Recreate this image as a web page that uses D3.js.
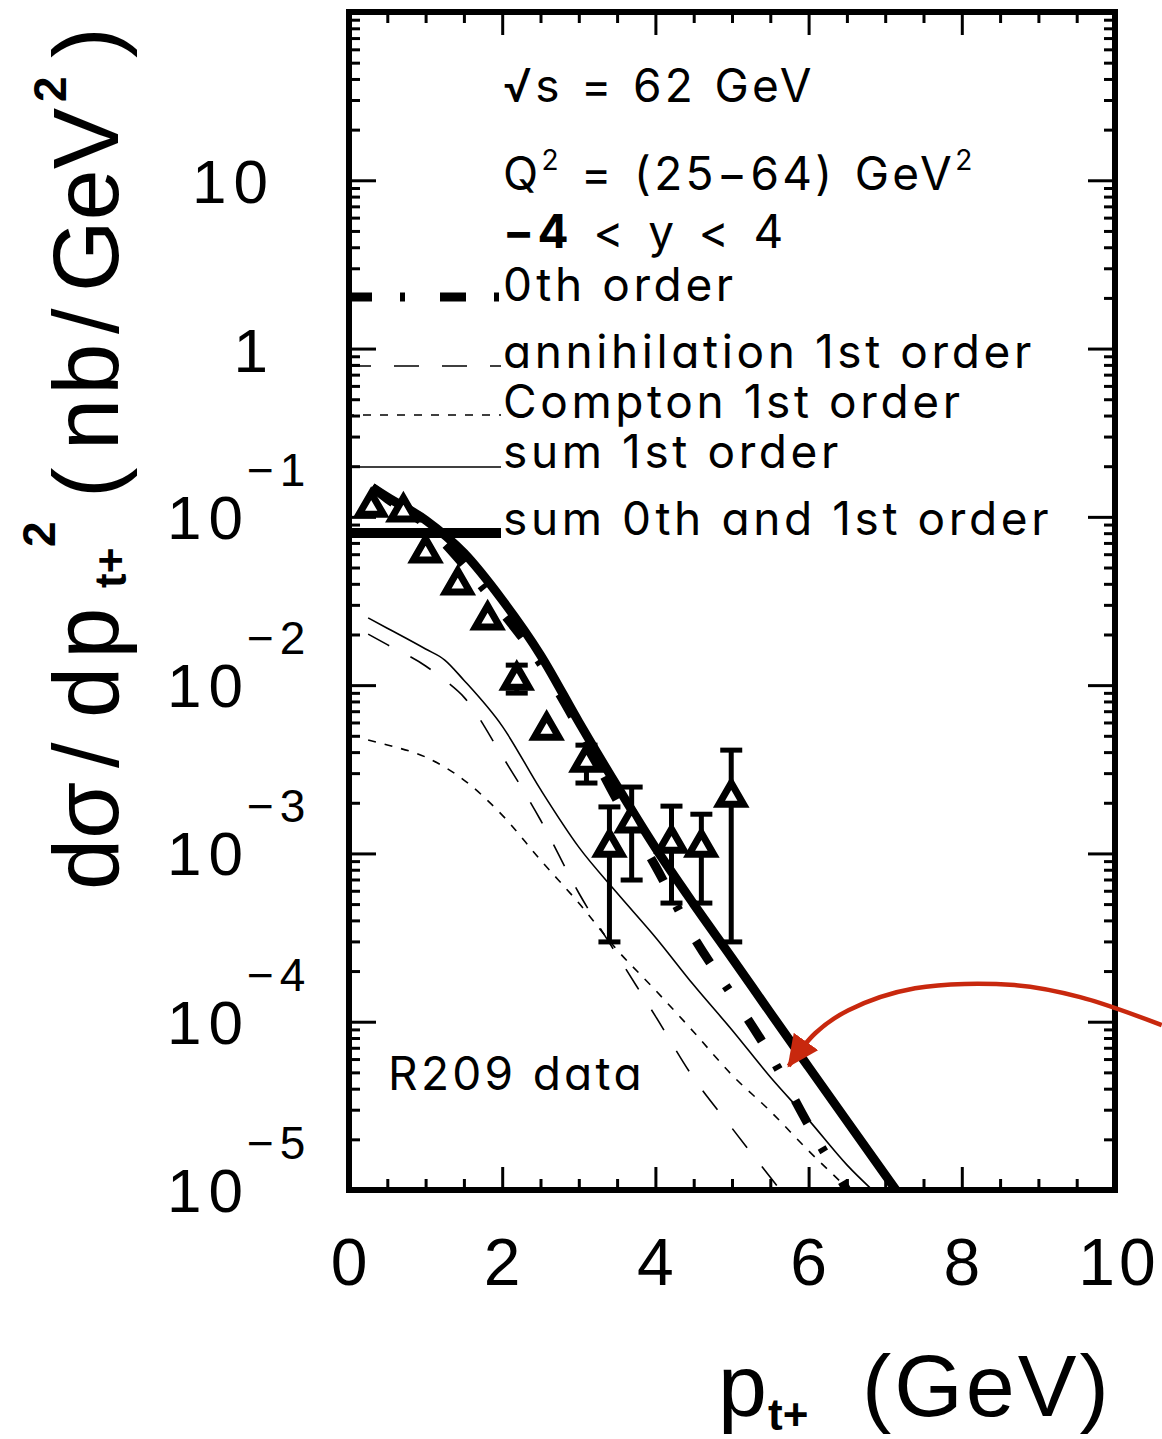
<!DOCTYPE html>
<html>
<head>
<meta charset="utf-8">
<script src="https://cdn.jsdelivr.net/npm/d3@7"></script>
<style>
  html, body { margin: 0; padding: 0; background: #fff; }
  svg { display: block; }
  .plot-text { font-family: Inter, "DejaVu Sans", sans-serif; font-feature-settings: "cv11" 1; }
  .axis-text { font-family: "Liberation Sans", Arial, sans-serif; }
</style>
</head>
<body>
<svg id="chart" width="1162" height="1439"></svg>
<script>
// ---- data ----
// zeroth order + sum curve grid (p_t+ in GeV)
const ptSum = [0.3, 0.5, 1, 1.5, 2, 2.5, 3, 3.5, 4, 4.5, 5, 5.5, 6, 6.5, 7, 7.5];
const sumAll = [0.150, 0.131, 0.0957, 0.0610, 0.0321, 0.0151, 0.00604, 0.00251, 0.00108, 0.000500,
                0.000239, 0.000113, 5.38e-5, 2.57e-5, 1.23e-5, 5.9e-6];
const zerothOrder = [0.150, 0.128, 0.090, 0.0518, 0.0272, 0.0135, 0.00556, 0.00207, 0.000841, 0.000318,
                     0.000144, 6.34e-5, 2.43e-5, 1.0e-5, 4.1e-6, 1.7e-6];

// first order curves
const ptFirst = [0.25, 0.5, 1, 1.25, 1.5, 2, 2.5, 3, 3.5, 4, 4.5, 5, 5.5, 6, 6.5, 7];
const sumFirst = [0.0251, 0.0218, 0.0164, 0.0141, 0.0107, 0.00571, 0.0024, 0.00109, 0.000582, 0.000318,
                  0.000165, 8.93e-5, 4.69e-5, 2.61e-5, 1.41e-5, 8.5e-6];
const annihilation = [0.0201, 0.0174, 0.0130, 0.0107, 0.00849, 0.00379, 0.00158, 0.000582, 0.000249, 0.000108,
                      4.62e-5, 2.33e-5, 1.19e-5, 6.2e-6, 3.3e-6, 1.8e-6];
const compton = [0.00472, 0.00441, 0.00374, 0.00326, 0.00273, 0.00169, 0.000914, 0.000507, 0.000267, 0.000154,
                 8.69e-5, 4.82e-5, 2.94e-5, 1.71e-5, 1.03e-5, 6.2e-6];

// R209 data points
const dataPt = [0.29, 0.71, 1.0, 1.42, 1.81, 2.19, 2.58, 3.10, 3.40, 3.69, 4.21, 4.60, 4.99];
const dataVal = [0.114, 0.107, 0.061, 0.0394, 0.0244, 0.0107, 0.0054, 0.00349, 0.00109, 0.00152, 0.00115, 0.00109, 0.00216];
const dataLo = [null, null, null, null, null, 0.00897, null, 0.00262, 0.000298, 0.000695, 0.000507, 0.000507, 0.000298];
const dataHi = [null, null, null, null, null, 0.01315, null, 0.0044, 0.00189, 0.00248, 0.00191, 0.00171, 0.00411];

// axis ticks
const xTickLabels = [0, 2, 4, 6, 8, 10];
const yTickExps = [1, 0, -1, -2, -3, -4, -5];

// red annotation arrow (in data coords)
const arrowPt = [10.61, 9.545, 8.688, 7.39, 6.52, 6.09, 5.74];
const arrowVal = [9.55e-5, 1.40e-4, 1.65e-4, 1.58e-4, 1.17e-4, 8.57e-5, 5.46e-5];

// ---- layout ----
const frame = { left: 349, right: 1115, top: 12, bottom: 1190 };
const ARROW_RED = "#c8280e";
const DASH_DOT = "26,28,5,35";

const svg = d3.select("#chart");

const x = d3.scaleLinear().domain([0, 10]).range([frame.left, frame.right]);
const y = d3.scaleLog().domain([1e-5, 1e2]).range([frame.bottom, frame.top]);

svg.append("rect").attr("width", 1162).attr("height", 1439).attr("fill", "#fff");

const defs = svg.append("defs");
defs.append("clipPath").attr("id", "plot-clip")
  .append("rect")
  .attr("x", frame.left).attr("y", frame.top)
  .attr("width", frame.right - frame.left).attr("height", frame.bottom - frame.top);

defs.append("marker")
  .attr("id", "arrow-head")
  .attr("markerUnits", "userSpaceOnUse")
  .attr("viewBox", "0 0 32 30")
  .attr("markerWidth", 32).attr("markerHeight", 30)
  .attr("refX", 30).attr("refY", 15)
  .attr("orient", "auto")
  .append("path")
  .attr("d", "M0,0 L32,15 L0,30 Z")
  .attr("fill", ARROW_RED);

// ---- ticks (inside the frame, on all four sides) ----
const xMinor = d3.range(0, 10.01, 0.5).filter(v => v % 2 !== 0);
const yMinor = [];
for (let e = -5; e < 2; e++) for (let k = 2; k <= 9; k++) yMinor.push(k * Math.pow(10, e));
const yMajor = yTickExps.map(e => Math.pow(10, e)).concat([100]);

function styleAxis(g) {
  g.select(".domain").remove();
  g.selectAll("line").attr("stroke", "#000").attr("stroke-width", 3);
  g.selectAll("text").remove();
}

svg.append("g").attr("transform", `translate(0,${frame.bottom})`)
  .call(d3.axisBottom(x).tickValues(xTickLabels).tickSize(-23)).call(styleAxis);
svg.append("g").attr("transform", `translate(0,${frame.bottom})`)
  .call(d3.axisBottom(x).tickValues(xMinor).tickSize(-11)).call(styleAxis);
svg.append("g").attr("transform", `translate(0,${frame.top})`)
  .call(d3.axisTop(x).tickValues(xTickLabels).tickSize(-23)).call(styleAxis);
svg.append("g").attr("transform", `translate(0,${frame.top})`)
  .call(d3.axisTop(x).tickValues(xMinor).tickSize(-11)).call(styleAxis);

svg.append("g").attr("transform", `translate(${frame.left},0)`)
  .call(d3.axisLeft(y).tickValues(yMajor).tickSize(-27)).call(styleAxis);
svg.append("g").attr("transform", `translate(${frame.left},0)`)
  .call(d3.axisLeft(y).tickValues(yMinor).tickSize(-11)).call(styleAxis);
svg.append("g").attr("transform", `translate(${frame.right},0)`)
  .call(d3.axisRight(y).tickValues(yMajor).tickSize(-27)).call(styleAxis);
svg.append("g").attr("transform", `translate(${frame.right},0)`)
  .call(d3.axisRight(y).tickValues(yMinor).tickSize(-11)).call(styleAxis);

// ---- curves ----
const line = d3.line()
  .x(d => x(d[0]))
  .y(d => y(d[1]))
  .curve(d3.curveMonotoneX);

const curves = [
  { pts: ptFirst, vals: compton, width: 1.6, dash: "8,9" },
  { pts: ptFirst, vals: annihilation, width: 1.6, dash: "24,24" },
  { pts: ptFirst, vals: sumFirst, width: 1.6, dash: null },
  { pts: ptSum, vals: zerothOrder, width: 9, dash: DASH_DOT },
  { pts: ptSum, vals: sumAll, width: 9, dash: null }
];

const curveG = svg.append("g").attr("clip-path", "url(#plot-clip)");
curves.forEach(c => {
  curveG.append("path")
    .datum(c.pts.map((p, i) => [p, c.vals[i]]))
    .attr("d", line)
    .attr("fill", "none")
    .attr("stroke", "#000")
    .attr("stroke-width", c.width)
    .attr("stroke-dasharray", c.dash);
});

// ---- data points with error bars ----
const points = dataPt.map((p, i) => ({ p, v: dataVal[i], lo: dataLo[i], hi: dataHi[i] }));
const errG = svg.append("g").attr("stroke", "#000").attr("stroke-width", 5);
points.filter(d => d.lo !== null).forEach(d => {
  errG.append("line").attr("x1", x(d.p)).attr("x2", x(d.p)).attr("y1", y(d.lo)).attr("y2", y(d.hi));
  errG.append("line").attr("x1", x(d.p) - 11).attr("x2", x(d.p) + 11).attr("y1", y(d.lo)).attr("y2", y(d.lo));
  errG.append("line").attr("x1", x(d.p) - 11).attr("x2", x(d.p) + 11).attr("y1", y(d.hi)).attr("y2", y(d.hi));
});
svg.append("g").selectAll("path")
  .data(points)
  .join("path")
  .attr("transform", d => `translate(${x(d.p)},${y(d.v)})`)
  .attr("d", d3.symbol().type(d3.symbolTriangle).size(260))
  .attr("fill", "#fff")
  .attr("stroke", "#000")
  .attr("stroke-width", 7)
  .attr("stroke-linejoin", "miter");

// ---- frame ----
svg.append("rect")
  .attr("x", frame.left).attr("y", frame.top)
  .attr("width", frame.right - frame.left).attr("height", frame.bottom - frame.top)
  .attr("fill", "none").attr("stroke", "#000").attr("stroke-width", 6);

// ---- legend inside the plot ----
const legendRows = [
  { label: "0th order", width: 9, dash: DASH_DOT, y: 297, base: 301 },
  { label: "annihilation 1st order", width: 1.6, dash: "25,23", y: 366, base: 368 },
  { label: "Compton 1st order", width: 1.6, dash: "8,9", y: 415, base: 418 },
  { label: "sum 1st order", width: 1.6, dash: null, y: 467, base: 468 },
  { label: "sum 0th and 1st order", width: 10, dash: null, y: 533, base: 535 }
];
const legG = svg.append("g");
legendRows.forEach(r => {
  legG.append("line")
    .attr("x1", frame.left - 3).attr("x2", 501)
    .attr("y1", r.y).attr("y2", r.y)
    .attr("stroke", "#000").attr("stroke-width", r.width)
    .attr("stroke-dasharray", r.dash);
  legG.append("text").attr("class", "plot-text")
    .attr("x", 503).attr("y", r.base)
    .attr("font-size", 46)
    .attr("letter-spacing", 3.6)
    .text(r.label);
});

const info = svg.append("g").attr("class", "plot-text").attr("font-size", 46).attr("letter-spacing", 3.3);
info.append("text").attr("x", 503).attr("y", 102).attr("word-spacing", 2).text("√s = 62 GeV");
const q2 = info.append("text").attr("x", 503).attr("y", 190).attr("word-spacing", 3);
q2.append("tspan").text("Q");
q2.append("tspan").attr("font-size", 28).attr("dy", -20).text("2");
q2.append("tspan").attr("dy", 20).text(" = (25−64) GeV");
q2.append("tspan").attr("font-size", 28).attr("dy", -20).text("2");
const rap = info.append("text").attr("x", 503).attr("y", 248).attr("word-spacing", 5);
rap.append("tspan").attr("font-weight", "bold").text("−4");
rap.append("tspan").text(" < y < 4");
info.append("text").attr("x", 388).attr("y", 1090).text("R209 data");

// ---- tick labels ----
svg.append("g").attr("class", "axis-text").attr("font-size", 66)
  .selectAll("text")
  .data(xTickLabels)
  .join("text")
  .attr("x", d => x(d) + (d >= 10 ? 4 : 0))
  .attr("y", 1285)
  .attr("text-anchor", "middle")
  .attr("letter-spacing", d => d >= 10 ? 4 : 0)
  .text(d => d);

const yLab = svg.append("g").attr("class", "axis-text");
yTickExps.forEach(e => {
  const yy = y(Math.pow(10, e));
  if (e >= 0) {
    yLab.append("text").attr("x", 268 + (e > 0 ? 7 : 0)).attr("y", yy + 23)
      .attr("text-anchor", "end").attr("font-size", 62)
      .attr("letter-spacing", e > 0 ? 7 : 0)
      .text(e === 0 ? "1" : "10");
  } else {
    yLab.append("text").attr("x", 250).attr("y", yy + 22)
      .attr("text-anchor", "end").attr("font-size", 62)
      .attr("letter-spacing", 7)
      .text("10");
    yLab.append("text").attr("x", 247).attr("y", yy - 31)
      .attr("font-size", 46).attr("letter-spacing", 6)
      .text("−" + (-e));
  }
});

// ---- axis titles ----
const xt = svg.append("text").attr("class", "axis-text").attr("y", 1416);
xt.append("tspan").attr("x", 718).attr("font-size", 88).text("p");
xt.append("tspan").attr("x", 768).attr("y", 1430).attr("font-size", 44).attr("font-weight", "bold").text("t+");
xt.append("tspan").attr("x", 862).attr("y", 1416).attr("font-size", 88).attr("letter-spacing", 3).text("(GeV)");

const yt = svg.append("text").attr("class", "axis-text")
  .attr("transform", "translate(118,890) rotate(-90)");
const ytPieces = [
  { t: "dσ", x: 0, y: 0, s: 92 },
  { t: "/", x: 122, y: 0, s: 92 },
  { t: "dp", x: 172, y: 0, s: 92, ls: 8 },
  { t: "t+", x: 302, y: 8, s: 44, b: true },
  { t: "2", x: 343, y: -63, s: 46, b: true },
  { t: "(", x: 392, y: 0, s: 92 },
  { t: "nb", x: 440, y: 0, s: 92, ls: 4 },
  { t: "/", x: 556, y: 0, s: 92 },
  { t: "GeV", x: 598, y: 0, s: 92 },
  { t: "2", x: 788, y: -52, s: 46, b: true },
  { t: ")", x: 832, y: 0, s: 92 }
];
ytPieces.forEach(pc => {
  yt.append("tspan").attr("x", pc.x).attr("y", pc.y)
    .attr("font-size", pc.s).attr("font-weight", pc.b ? "bold" : null)
    .attr("letter-spacing", pc.ls || null)
    .text(pc.t);
});

// ---- red annotation arrow ----
svg.append("path")
  .datum(arrowPt.map((p, i) => [p, arrowVal[i]]))
  .attr("d", d3.line().x(d => x(d[0])).y(d => y(d[1])).curve(d3.curveCatmullRom))
  .attr("fill", "none")
  .attr("stroke", ARROW_RED)
  .attr("stroke-width", 4.5)
  .attr("marker-end", "url(#arrow-head)");
</script>
</body>
</html>
